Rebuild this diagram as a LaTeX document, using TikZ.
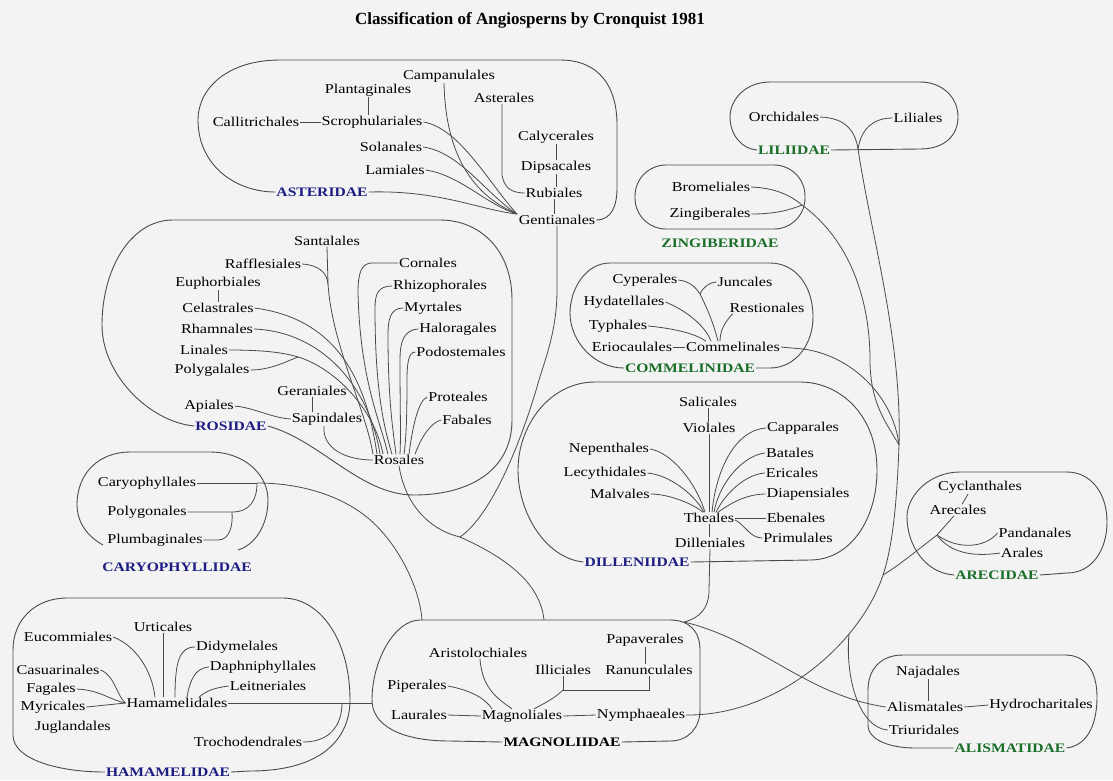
\documentclass[tikz,border=0pt]{standalone}
\usepackage{fontspec}
\setmainfont{Liberation Serif}[FakeStretch=1.2]
\newfontfamily\ttlfont{Liberation Serif}
\usetikzlibrary{calc}
\definecolor{bgcol}{RGB}{243,243,243}
\definecolor{lncol}{RGB}{75,75,75}
\definecolor{subblue}{RGB}{28,28,130}
\definecolor{subgreen}{RGB}{25,110,40}
\newcommand\ordsize{\fontsize{13.5}{15}\selectfont}
\newcommand\subsize{\fontsize{13}{15}\selectfont\bfseries}
\begin{document}
\begin{tikzpicture}[x=1pt,y=-1pt,
  ord/.style={font=\ordsize, inner sep=0.8pt, text=black},
  subb/.style={font=\subsize, inner sep=1pt, text=subblue},
  subg/.style={font=\subsize, inner sep=1pt, text=subgreen},
  subk/.style={font=\subsize, inner sep=1pt, text=black},
  ln/.style={draw=lncol, line width=0.8pt},
  blob/.style={draw=lncol, line width=0.9pt},
]
\useasboundingbox (0,0) rectangle (1113,780);
\fill[bgcol] (0,0) rectangle (1113,780);

\node[font={\ttlfont\bfseries\fontsize{17}{19}\selectfont}, inner sep=0pt] (title) at (530,20) {Classification of Angiosperns by Cronquist 1981};

% ---------------- ASTERIDAE ----------------
\node[ord] (campan) at (449,76) {Campanulales};
\node[ord] (plantag) at (368,90) {Plantaginales};
\node[ord] (aster) at (504,98) {Asterales};
\node[ord] (callit) at (256,122) {Callitrichales};
\node[ord] (scroph) at (372,122) {Scrophulariales};
\node[ord] (calyc) at (556,137) {Calycerales};
\node[ord] (solan) at (391,147) {Solanales};
\node[ord] (dipsac) at (556,167) {Dipsacales};
\node[ord] (lami) at (395,170) {Lamiales};
\node[subb] (asteridae) at (322,192) {ASTERIDAE};
\node[ord] (rubi) at (554,193) {Rubiales};
\node[ord] (gentian) at (557,220) {Gentianales};
\coordinate (gin) at (517,214);

\draw[blob] (gentian.east) .. controls (612,220) and (617,205) .. (617,188) -- (617,125)
  .. controls (617,85) and (598,60) .. (560,60) -- (280,60)
  .. controls (228,60) and (198,88) .. (198,120)
  .. controls (198,165) and (235,192) .. (asteridae.west);
\draw[ln] (asteridae.east) .. controls (440,190) and (480,210) .. (gin);
\draw[ln] (callit.east) -- (scroph.west);
\draw[ln] (plantag.south) -- (plantag.south |- scroph.north);
\draw[ln] ([xshift=-5pt]campan.south) .. controls (446,170) and (485,200) .. (gin);
\draw[ln] (scroph.east) .. controls (460,128) and (490,185) .. (gin);
\draw[ln] (solan.east) .. controls (460,152) and (487,195) .. (gin);
\draw[ln] (lami.east) .. controls (460,175) and (487,205) .. (gin);
\draw[ln] ([xshift=-2pt]aster.south) -- (502,175) .. controls (504,188) and (512,193) .. (rubi.west);
\draw[ln] (calyc.south) -- (calyc.south |- dipsac.north);
\draw[ln] (dipsac.south) -- (dipsac.south |- rubi.north);
\draw[ln] (rubi.south) -- (rubi.south |- gentian.north);

% ---------------- ROSIDAE ----------------
\node[ord] (santal) at (327,241) {Santalales};
\node[ord] (raffl) at (263,264) {Rafflesiales};
\node[ord] (cornal) at (428,263) {Cornales};
\node[ord] (euphor) at (218,283) {Euphorbiales};
\node[ord] (rhizo) at (440,286) {Rhizophorales};
\node[ord] (celast) at (218,308) {Celastrales};
\node[ord] (myrt) at (433,308) {Myrtales};
\node[ord] (rhamn) at (217,329) {Rhamnales};
\node[ord] (halor) at (458,329) {Haloragales};
\node[ord] (linal) at (204,350) {Linales};
\node[ord] (podost) at (461,352) {Podostemales};
\node[ord] (polyg) at (212,370) {Polygalales};
\node[ord] (geran) at (312,391) {Geraniales};
\node[ord] (prote) at (458,397) {Proteales};
\node[ord] (apial) at (209,406) {Apiales};
\node[ord] (sapind) at (327,419) {Sapindales};
\node[ord] (fabal) at (467,420) {Fabales};
\node[subb] (rosidae) at (231,426) {ROSIDAE};
\node[ord] (rosal) at (399,460) {Rosales};
\coordinate (sj) at (328,284);
\coordinate (lj) at (298,357);
\coordinate (rj) at (460,537);

\draw[blob] (rosidae.east) .. controls (320,440) and (360,495) .. (414,495)
  .. controls (470,495) and (512,470) .. (512,420) -- (512,300)
  .. controls (512,250) and (480,220) .. (440,220) -- (173,220)
  .. controls (130,220) and (102,270) .. (102,325)
  .. controls (102,375) and (150,422) .. (rosidae.west);
\draw[ln] (santal.south) -- (sj) .. controls (332,345) and (366,410) .. ([xshift=-26pt]rosal.north);
\draw[ln] (raffl.east) .. controls (318,265) and (327,272) .. (sj);
\draw[ln] (euphor.south) -- (euphor.south |- celast.north);
\draw[ln] (celast.east) .. controls (330,318) and (365,370) .. ([xshift=-22pt]rosal.north);
\draw[ln] (rhamn.east) .. controls (325,332) and (370,390) .. ([xshift=-19pt]rosal.north);
\draw[ln] (linal.east) .. controls (260,350) and (282,352) .. (lj) .. controls (335,368) and (375,410) .. ([xshift=-16pt]rosal.north);
\draw[ln] (polyg.east) .. controls (270,370) and (285,362) .. (lj);
\draw[ln] (geran.south) -- (geran.south |- sapind.north);
\draw[ln] (apial.east) .. controls (255,408) and (272,418) .. (sapind.west);
\draw[ln] ([xshift=-3pt]sapind.south) .. controls (322,448) and (345,460) .. (rosal.west);
\draw[ln] (cornal.west) -- (372,263) .. controls (362,263) and (358,272) .. (358,292) .. controls (360,380) and (380,420) .. ([xshift=-11pt]rosal.north);
\draw[ln] (rhizo.west) .. controls (378,286) and (375,294) .. (375,308) .. controls (375,395) and (385,430) .. ([xshift=-7pt]rosal.north);
\draw[ln] (myrt.west) .. controls (390,308) and (388,320) .. (388,335) .. controls (388,400) and (393,430) .. ([xshift=-3pt]rosal.north);
\draw[ln] (halor.west) .. controls (402,330) and (400,345) .. (400,360) .. controls (400,410) and (401,435) .. ([xshift=1pt]rosal.north);
\draw[ln] (podost.west) .. controls (408,352) and (407,365) .. (407,380) .. controls (407,420) and (406,440) .. ([xshift=5pt]rosal.north);
\draw[ln] (prote.west) .. controls (418,400) and (412,430) .. ([xshift=10pt]rosal.north);
\draw[ln] (fabal.west) .. controls (432,422) and (422,435) .. ([xshift=16pt]rosal.north);
\draw[ln] (rosal.south) .. controls (405,505) and (430,530) .. (rj);
\draw[ln] (gentian.south) -- (557,290) .. controls (557,330) and (545,360) .. (539,380)
  .. controls (522,440) and (492,515) .. (rj);

% ---------------- CARYOPHYLLIDAE ----------------
\node[ord] (caryo) at (147,483) {Caryophyllales};
\node[ord] (polygo) at (147,512) {Polygonales};
\node[ord] (plumb) at (155,540) {Plumbaginales};
\node[subb] (caryod) at (177,567) {CARYOPHYLLIDAE};
\coordinate (cj) at (257,483);
\coordinate (pj) at (232,512);
\draw[blob] (103,545) .. controls (85,535) and (77,520) .. (77,505)
  .. controls (77,472) and (100,452) .. (130,452) -- (210,452)
  .. controls (245,452) and (268,475) .. (268,500)
  .. controls (268,525) and (255,545) .. (238,550);
\draw[ln] (caryo.east) -- (cj);
\draw[ln] (polygo.east) -- (pj) .. controls (250,512) and (257,500) .. (cj);
\draw[ln] (plumb.east) -- (218,540) .. controls (230,540) and (233,525) .. (pj);

% ---------------- HAMAMELIDAE ----------------
\node[ord] (eucom) at (68,637) {Eucommiales};
\node[ord] (urtic) at (163,627) {Urticales};
\node[ord] (didym) at (237,647) {Didymelales};
\node[ord] (casua) at (58,670) {Casuarinales};
\node[ord] (daphn) at (263,667) {Daphniphyllales};
\node[ord] (fagal) at (51,689) {Fagales};
\node[ord] (leitn) at (268,686) {Leitneriales};
\node[ord] (myric) at (53,707) {Myricales};
\node[ord] (hamam) at (177,703) {Hamamelidales};
\node[ord] (jugla) at (73,727) {Juglandales};
\node[ord] (troch) at (248,742) {Trochodendrales};
\node[subb] (hamamd) at (168,772) {HAMAMELIDAE};
\coordinate (hj) at (342,703);
\draw[blob] (hamamd.east) -- (250,771) .. controls (320,771) and (350,740) .. (350,700)
  .. controls (350,640) and (320,598) .. (283,598) -- (67,598)
  .. controls (35,598) and (13,620) .. (13,650) -- (13,735)
  .. controls (13,760) and (60,772) .. (hamamd.west);
\draw[ln] (urtic.south) -- (urtic.south |- hamam.north);
\draw[ln] (eucom.east) .. controls (135,645) and (152,670) .. ([xshift=-22pt]hamam.north);
\draw[ln] (didym.west) .. controls (180,647) and (175,660) .. ([xshift=-2pt]hamam.north);
\draw[ln] (daphn.west) .. controls (195,668) and (190,680) .. ([xshift=10pt]hamam.north);
\draw[ln] (leitn.west) .. controls (212,688) and (205,692) .. ([xshift=22pt]hamam.north);
\draw[ln] (casua.east) .. controls (115,675) and (117,697) .. (hamam.west);
\draw[ln] (fagal.east) .. controls (100,690) and (110,700) .. (hamam.west);
\draw[ln] (myric.east) -- (hamam.west);
\draw[ln] (troch.east) .. controls (330,742) and (342,725) .. (hj);

% ---------------- MAGNOLIIDAE ----------------
\node[ord] (papav) at (645,640) {Papaverales};
\node[ord] (aristo) at (478,653) {Aristolochiales};
\node[ord] (illic) at (563,670) {Illiciales};
\node[ord] (ranun) at (649,670) {Ranunculales};
\node[ord] (piper) at (417,686) {Piperales};
\node[ord] (laura) at (419,715) {Laurales};
\node[ord] (magno) at (522,716) {Magnoliales};
\node[ord] (nymph) at (641,715) {Nymphaeales};
\node[subk] (magnd) at (562,742) {MAGNOLIIDAE};
\coordinate (ij) at (563,690);
\coordinate (magl) at (372,703);
\coordinate (mtop1) at (422,620);
\coordinate (mtop2) at (544,620);
\coordinate (mtop3) at (684,622);
\draw[blob] (magnd.east) -- (670,741) .. controls (688,741) and (700,728) .. (700,710) -- (700,650)
  .. controls (700,632) and (690,620) .. (670,620) -- (420,620)
  .. controls (395,620) and (372,660) .. (372,700)
  .. controls (372,725) and (400,741) .. (450,741) -- (magnd.west);
\draw[ln] (papav.south) -- (papav.south |- ranun.north);
\draw[ln] (ranun.south) |- (ij);
\draw[ln] (illic.south) -- (ij);
\draw[ln] (ij) .. controls (555,698) and (545,703) .. ([xshift=12pt]magno.north);
\draw[ln] ([xshift=2pt]aristo.south) .. controls (482,690) and (500,700) .. ([xshift=-10pt]magno.north);
\draw[ln] (piper.east) .. controls (470,690) and (485,698) .. ([xshift=-30pt]magno.north);
\draw[ln] (laura.east) -- (magno.west);
\draw[ln] (magno.east) -- (nymph.west);
\draw[ln] (hamam.east) -- (hj) -- (magl);
\draw[ln] (cj) .. controls (300,483) and (340,495) .. (368,518) .. controls (400,545) and (420,590) .. (mtop1);
\draw[ln] (rj) .. controls (500,555) and (540,580) .. (mtop2);

% ---------------- DILLENIIDAE ----------------
\node[ord] (salic) at (708,402) {Salicales};
\node[ord] (viola) at (709,428) {Violales};
\node[ord] (cappa) at (803,428) {Capparales};
\node[ord] (nepen) at (609,449) {Nepenthales};
\node[ord] (batal) at (790,453) {Batales};
\node[ord] (lecyt) at (605,473) {Lecythidales};
\node[ord] (erica) at (792,473) {Ericales};
\node[ord] (malva) at (620,494) {Malvales};
\node[ord] (diape) at (808,494) {Diapensiales};
\node[ord] (theal) at (709,518) {Theales};
\node[ord] (ebena) at (796,518) {Ebenales};
\node[ord] (dille) at (710,543) {Dilleniales};
\node[ord] (primu) at (798,538) {Primulales};
\node[subb] (dilld) at (637,562) {DILLENIIDAE};
\draw[blob] (dilld.east) -- (810,560) .. controls (850,560) and (877,520) .. (877,470)
  .. controls (877,415) and (840,382) .. (800,382) -- (595,382)
  .. controls (550,382) and (518,425) .. (518,470)
  .. controls (518,512) and (545,558) .. (dilld.west);
\draw[ln] (salic.south) -- (salic.south |- viola.north);
\draw[ln] (viola.south) -- (viola.south |- theal.north);
\draw[ln] (nepen.east) .. controls (670,452) and (695,480) .. ([xshift=-4pt]theal.north);
\draw[ln] (lecyt.east) .. controls (670,475) and (695,495) .. ([xshift=-5pt]theal.north);
\draw[ln] (malva.east) .. controls (670,494) and (695,505) .. ([xshift=-6pt]theal.north);
\draw[ln] (cappa.west) .. controls (735,430) and (716,470) .. ([xshift=3pt]theal.north);
\draw[ln] (batal.west) .. controls (745,455) and (720,480) .. ([xshift=5pt]theal.north);
\draw[ln] (erica.west) .. controls (745,474) and (724,495) .. ([xshift=7pt]theal.north);
\draw[ln] (diape.west) .. controls (745,494) and (728,505) .. ([xshift=9pt]theal.north);
\draw[ln] (theal.east) -- (ebena.west);
\draw[ln] ([yshift=-2pt]theal.east) .. controls (745,525) and (750,538) .. (primu.west);
\draw[ln] (theal.south) -- (theal.south |- dille.north);
\draw[ln] (dille.south) -- (709,590) .. controls (709,608) and (700,618) .. (mtop3);

% ---------------- LILIIDAE ----------------
\node[ord] (orchi) at (784,117) {Orchidales};
\node[ord] (lilia) at (918,118) {Liliales};
\node[subg] (lilid) at (794,150) {LILIIDAE};
\coordinate (lilj) at (858,149);
\draw[blob] (lilid.east) -- (920,149) .. controls (945,149) and (958,135) .. (958,117)
  .. controls (958,97) and (942,82) .. (920,82) -- (770,82)
  .. controls (745,82) and (730,100) .. (730,117)
  .. controls (730,135) and (742,149) .. (lilid.west);
\draw[ln] (orchi.east) .. controls (845,118) and (855,130) .. (lilj);
\draw[ln] (lilia.west) .. controls (872,118) and (861,130) .. (lilj);

% ---------------- ZINGIBERIDAE ----------------
\node[ord] (brome) at (711,187) {Bromeliales};
\node[ord] (zingi) at (710,214) {Zingiberales};
\node[subg] (zingd) at (720,243) {ZINGIBERIDAE};
\coordinate (zj) at (802,205);
\draw[blob, rounded corners=31pt] (635,165) rectangle (805,229);
\draw[ln] (brome.east) .. controls (775,188) and (790,195) .. (zj);
\draw[ln] (zingi.east) .. controls (775,214) and (790,210) .. (zj);

% ---------------- COMMELINIDAE ----------------
\node[ord] (cyper) at (645,280) {Cyperales};
\node[ord] (junca) at (745,282) {Juncales};
\node[ord] (hydat) at (624,302) {Hydatellales};
\node[ord] (resti) at (767,308) {Restionales};
\node[ord] (typha) at (618,326) {Typhales};
\node[ord] (erioc) at (632,347) {Eriocaulales};
\node[ord] (comme) at (733,347) {Commelinales};
\node[subg] (commd) at (690,368) {COMMELINIDAE};
\coordinate (cj2) at (700,294);
\coordinate (cmr) at (803,349);
\draw[blob] (commd.east) -- (770,368) .. controls (795,368) and (813,345) .. (813,317)
  .. controls (813,285) and (795,263) .. (770,263) -- (610,263)
  .. controls (585,263) and (570,290) .. (570,313)
  .. controls (570,342) and (595,368) .. (commd.west);
\draw[ln] (erioc.east) -- (comme.west);
\draw[ln] (cyper.east) .. controls (688,281) and (695,286) .. (cj2);
\draw[ln] (junca.west) .. controls (710,282) and (703,287) .. (cj2);
\draw[ln] (cj2) .. controls (708,310) and (714,325) .. ([xshift=-15pt]comme.north);
\draw[ln] (hydat.east) .. controls (685,310) and (705,325) .. ([xshift=-22pt]comme.north);
\draw[ln] (typha.east) .. controls (670,328) and (695,333) .. ([xshift=-27pt]comme.north);
\draw[ln] ([xshift=4pt]resti.south west) .. controls (725,322) and (720,330) .. ([xshift=-13pt]comme.north);
\draw[ln] (comme.east) -- (cmr);

% ---------------- ARECIDAE ----------------
\node[ord] (cycla) at (980,487) {Cyclanthales};
\node[ord] (areca) at (958,510) {Arecales};
\node[ord] (panda) at (1035,533) {Pandanales};
\node[ord] (arale) at (1022,553) {Arales};
\node[subg] (arecd) at (997,575) {ARECIDAE};
\coordinate (aj) at (937,535);
\draw[blob] (arecd.east) -- (1067,573) .. controls (1092,573) and (1107,550) .. (1107,522)
  .. controls (1107,492) and (1090,472) .. (1067,472) -- (960,472)
  .. controls (930,472) and (907,495) .. (907,517)
  .. controls (907,545) and (925,573) .. (arecd.west);
\draw[ln] ([xshift=-12pt]cycla.south) -- ([xshift=4pt]areca.north);
\draw[ln] (aj) .. controls (958,550) and (985,548) .. (panda.west);
\draw[ln] (aj) .. controls (952,556) and (980,556) .. (arale.west);

% ---------------- ALISMATIDAE ----------------
\node[ord] (najad) at (928,672) {Najadales};
\node[ord] (alism) at (925,707) {Alismatales};
\node[ord] (hydro) at (1041,705) {Hydrocharitales};
\node[ord] (triur) at (924,730) {Triuridales};
\node[subg] (alismd) at (1010,748) {ALISMATIDAE};
\draw[blob] (alismd.east) .. controls (1090,745) and (1097,720) .. (1097,697)
  .. controls (1097,670) and (1085,655) .. (1065,655) -- (903,655)
  .. controls (880,655) and (868,670) .. (868,690) -- (868,725)
  .. controls (868,740) and (890,748) .. (915,748) -- (alismd.west);
\draw[ln] (najad.south) -- (najad.south |- alism.north);
\draw[ln] (alism.east) -- (hydro.west);

% ---------------- monocot trunk ----------------
\coordinate (tA) at (899,445);
\coordinate (tB) at (883,575);
\draw[ln] (lilj) .. controls (872,240) and (902,340) .. (tA)
  .. controls (897,500) and (893,545) .. (tB)
  .. controls (862,640) and (780,716) .. (nymph.east) coordinate[pos=0.3] (tC);
\draw[ln] (cmr) .. controls (850,355) and (893,395) .. (tA);
\draw[ln] (zj) .. controls (850,240) and (870,300) .. (870,360) .. controls (870,405) and (888,425) .. (tA);
\draw[ln] ([xshift=-4pt]areca.south) -- (aj) .. controls (915,552) and (898,566) .. (tB);
\draw[ln] (mtop3) .. controls (760,640) and (805,695) .. (alism.west);
\draw[ln] (tC) .. controls (845,680) and (860,728) .. (triur.west);
\end{tikzpicture}
\end{document}
